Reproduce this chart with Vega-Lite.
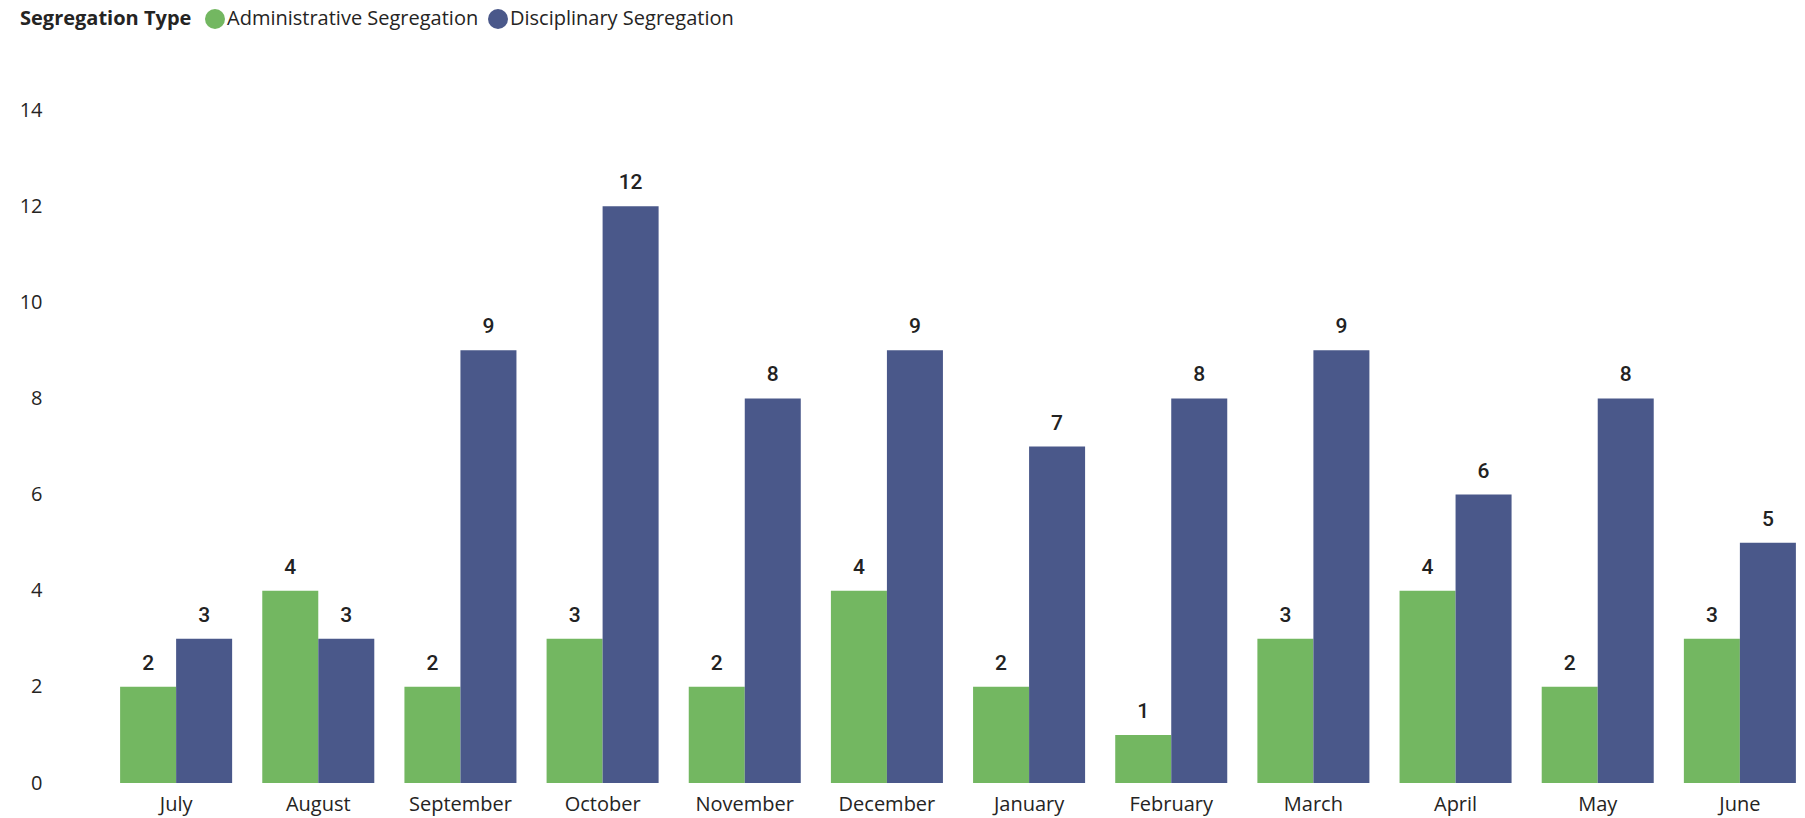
{
  "$schema": "https://vega.github.io/schema/vega-lite/v6.json",
  "width": 1690,
  "height": 673,
  "autosize": "none",
  "padding": {"left": 113, "top": 110, "right": 2, "bottom": 35},
  "background": "white",
  "config": {
    "view": {"stroke": null},
    "font": "Open Sans"
  },
  "data": {
    "values": [
      {"month": "July", "type": "Administrative Segregation", "count": 2},
      {"month": "July", "type": "Disciplinary Segregation", "count": 3},
      {"month": "August", "type": "Administrative Segregation", "count": 4},
      {"month": "August", "type": "Disciplinary Segregation", "count": 3},
      {"month": "September", "type": "Administrative Segregation", "count": 2},
      {"month": "September", "type": "Disciplinary Segregation", "count": 9},
      {"month": "October", "type": "Administrative Segregation", "count": 3},
      {"month": "October", "type": "Disciplinary Segregation", "count": 12},
      {"month": "November", "type": "Administrative Segregation", "count": 2},
      {"month": "November", "type": "Disciplinary Segregation", "count": 8},
      {"month": "December", "type": "Administrative Segregation", "count": 4},
      {"month": "December", "type": "Disciplinary Segregation", "count": 9},
      {"month": "January", "type": "Administrative Segregation", "count": 2},
      {"month": "January", "type": "Disciplinary Segregation", "count": 7},
      {"month": "February", "type": "Administrative Segregation", "count": 1},
      {"month": "February", "type": "Disciplinary Segregation", "count": 8},
      {"month": "March", "type": "Administrative Segregation", "count": 3},
      {"month": "March", "type": "Disciplinary Segregation", "count": 9},
      {"month": "April", "type": "Administrative Segregation", "count": 4},
      {"month": "April", "type": "Disciplinary Segregation", "count": 6},
      {"month": "May", "type": "Administrative Segregation", "count": 2},
      {"month": "May", "type": "Disciplinary Segregation", "count": 8},
      {"month": "June", "type": "Administrative Segregation", "count": 3},
      {"month": "June", "type": "Disciplinary Segregation", "count": 5}
    ]
  },
  "encoding": {
    "x": {
      "field": "month",
      "type": "nominal",
      "sort": null,
      "scale": {"paddingInner": 0.212, "paddingOuter": 0.05},
      "axis": {
        "title": null,
        "domain": false,
        "ticks": false,
        "labelAngle": 0,
        "labelPadding": 11,
        "labelFontSize": 20,
        "labelColor": "#252423",
        "labelFont": "Open Sans"
      }
    },
    "xOffset": {
      "field": "type",
      "type": "nominal",
      "scale": {"paddingInner": 0, "paddingOuter": 0}
    },
    "y": {
      "field": "count",
      "type": "quantitative",
      "scale": {"domain": [0, 14], "nice": false},
      "axis": {
        "title": null,
        "domain": false,
        "ticks": false,
        "grid": false,
        "values": [0, 2, 4, 6, 8, 10, 12, 14],
        "labelPadding": 71,
        "labelFontSize": 20,
        "labelColor": "#252423",
        "labelFont": "Open Sans"
      }
    }
  },
  "layer": [
    {
      "mark": {"type": "bar"},
      "encoding": {
        "color": {
          "field": "type",
          "type": "nominal",
          "scale": {
            "domain": ["Administrative Segregation", "Disciplinary Segregation"],
            "range": ["#73B761", "#4A588A"]
          },
          "legend": {
            "title": "Segregation Type",
            "orient": "none",
            "legendX": -93,
            "legendY": -101,
            "direction": "horizontal",
            "titleOrient": "left",
            "titleFontSize": 20,
            "titleFontWeight": "bold",
            "titleColor": "#252423",
            "titlePadding": 13,
            "titleLimit": 0,
            "labelFontSize": 20,
            "labelLimit": 0,
            "labelColor": "#252423",
            "symbolType": "circle",
            "symbolSize": 400,
            "symbolStrokeWidth": 0,
            "labelOffset": 2,
            "columnPadding": 9
          }
        }
      }
    },
    {
      "mark": {
        "type": "text",
        "baseline": "alphabetic",
        "dy": -17,
        "fontSize": 21,
        "fontWeight": 500,
        "font": "Roboto",
        "color": "#222222"
      },
      "encoding": {
        "text": {"field": "count", "type": "quantitative"},
        "detail": {"field": "type"}
      }
    }
  ]
}
